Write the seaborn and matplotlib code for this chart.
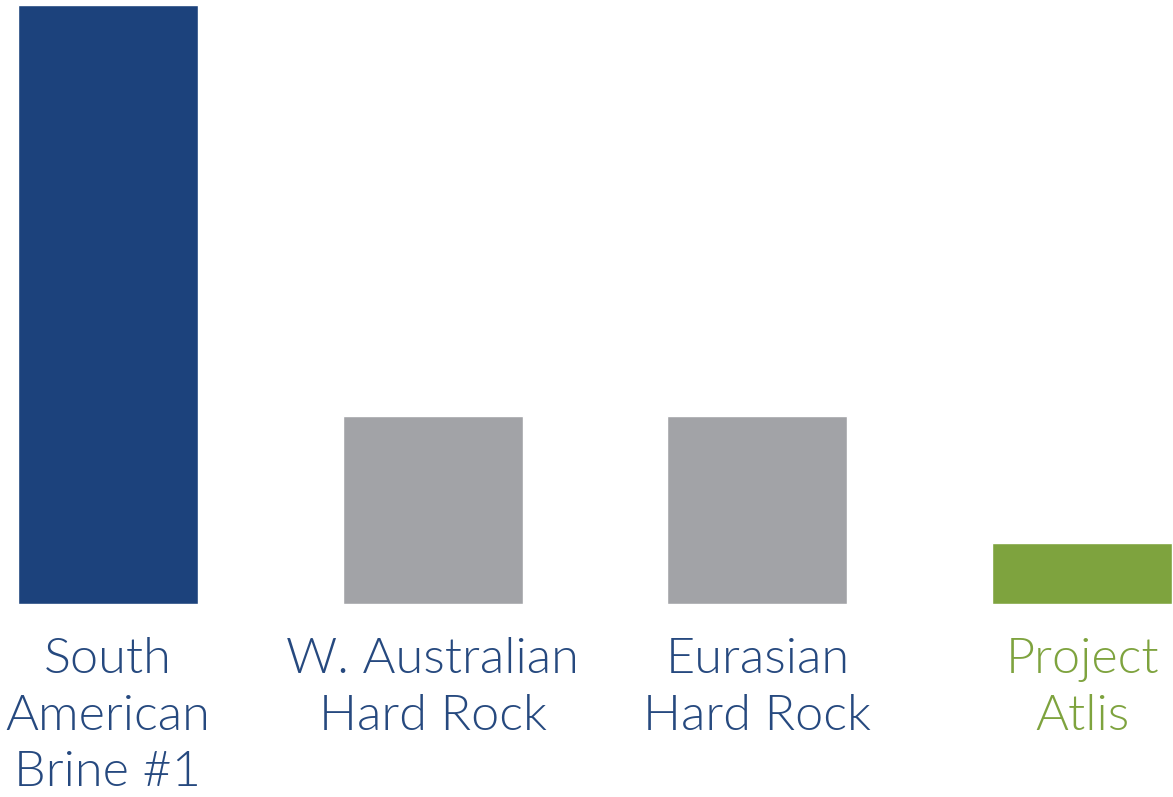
import matplotlib
matplotlib.use("Agg")
import matplotlib.pyplot as plt
import seaborn as sns
import pandas as pd

categories = ["South\nAmerican\nBrine #1", "W. Australian\nHard Rock", "Eurasian\nHard Rock", "Project\nAtlis"]
values = [100, 31.4, 31.4, 10.2]
bar_colors = ["#1c427c", "#a2a3a7", "#a2a3a7", "#7ea33e"]
label_colors = ["#26497f", "#26497f", "#26497f", "#7ea33e"]

sns.set_theme(style="white")
plt.rcParams['font.family'] = ['Lato', 'DejaVu Sans']

df = pd.DataFrame({"cat": categories, "val": values})

fig = plt.figure(figsize=(11.73, 7.97), dpi=100)
ax = fig.add_axes([0.0, 193/797, 1.0, 599/797])
sns.barplot(data=df, x="cat", y="val", hue="cat", palette=bar_colors, legend=False,
            width=0.554, saturation=1, ax=ax)

ax.set_xlim(-0.3326, 3.280)
ax.set_ylim(0, 100)
ax.set_xlabel("")
ax.set_ylabel("")
ax.set_yticks([])
for s in ax.spines.values():
    s.set_visible(False)
ax.tick_params(axis="x", length=0, pad=24, labelsize=36.3)
for lbl, c in zip(ax.get_xticklabels(), label_colors):
    lbl.set_color(c)
    lbl.set_fontweight(300)
    lbl.set_linespacing(1.32)
    lbl.set_verticalalignment("top")

fig.savefig("out.png", dpi=100)
